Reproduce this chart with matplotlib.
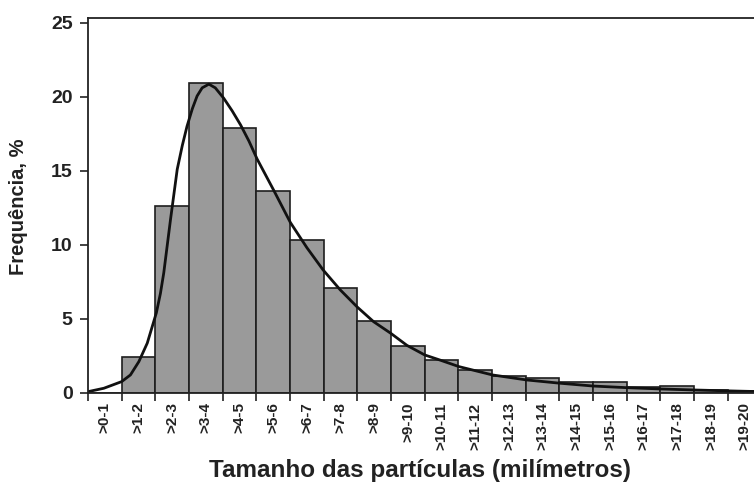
import matplotlib
matplotlib.use("Agg")
import matplotlib.pyplot as plt
import numpy as np

# Histogram bins (mm) and frequencies (%)
bin_labels = [">0-1", ">1-2", ">2-3", ">3-4", ">4-5", ">5-6", ">6-7", ">7-8", ">8-9", ">9-10",
              ">10-11", ">11-12", ">12-13", ">13-14", ">14-15", ">15-16", ">16-17", ">17-18",
              ">18-19", ">19-20"]
freq = [0.0, 2.4, 12.6, 20.9, 17.9, 13.6, 10.3, 7.1, 4.85, 3.15,
        2.2, 1.55, 1.15, 1.0, 0.75, 0.75, 0.4, 0.45, 0.2, 0.1]

# Fitted curve, points
curve_x = [0, 0.47, 1.0, 1.26, 1.51, 1.76, 2.03, 2.15, 2.25, 2.35, 2.45, 2.55, 2.65, 2.8, 2.94,
           3.1, 3.24, 3.39, 3.59, 3.78, 4.03, 4.28, 4.53, 4.78, 5.02, 5.51, 6.01, 6.5, 6.98,
           7.49, 7.99, 8.48, 9.0, 9.47, 10.0, 10.46, 11.02, 12.01, 13.03, 14.02, 15.0, 16.0,
           17.04, 18.06, 19.07, 20.0]
curve_y = [0.07, 0.3, 0.75, 1.2, 2.1, 3.35, 5.4, 6.7, 8.1, 9.9, 11.7, 13.4, 15.1, 16.7, 18.0,
           19.2, 20.05, 20.6, 20.85, 20.6, 19.9, 19.05, 18.1, 17.0, 15.8, 13.7, 11.5, 9.8, 8.3,
           6.95, 5.8, 4.8, 4.0, 3.2, 2.55, 2.2, 1.76, 1.2, 0.86, 0.64, 0.45, 0.34,
           0.25, 0.18, 0.12, 0.07]

plt.rcParams['font.family'] = ['Liberation Sans', 'DejaVu Sans']
txt = '#222222'

fig = plt.figure(figsize=(7.54, 4.94), dpi=100)
ax = fig.add_axes([88/754, (494-392.7)/494, (761.5-88)/754, (392.7-18.3)/494])

edges = np.arange(len(freq))
ax.bar(edges, freq, width=1.0, align='edge', color='#9a9a9a', edgecolor='#1e1e1e', linewidth=1.2)
ax.plot(curve_x, curve_y, color='#111111', linewidth=2.0, solid_capstyle='round',
        solid_joinstyle='round')

ax.set_xlim(0, 20)
ax.set_ylim(0, 25.3)

ax.set_xticks(np.arange(0, 21))
ax.set_xticklabels([])
ax.set_xticks(np.arange(len(freq)) + 0.5, minor=True)
ax.set_xticklabels(bin_labels, minor=True, rotation=90, fontsize=11, fontweight='bold', color=txt)
ax.tick_params(axis='x', which='major', direction='out', length=6, width=1.2, color='#222222')
ax.tick_params(axis='x', which='minor', length=0, pad=7)

ax.set_yticks([0, 5, 10, 15, 20, 25])
ax.tick_params(axis='y', direction='out', length=6, width=1.2, color='#222222',
               labelsize=14, labelcolor=txt, pad=5)
for lab in ax.get_yticklabels():
    lab.set_fontweight('bold')

for s in ['left', 'bottom', 'top']:
    ax.spines[s].set_linewidth(1.3)
    ax.spines[s].set_color('#222222')
ax.spines['right'].set_visible(False)

fig.text(19/754, 1 - 207/494, 'Frequência, %', rotation=90, ha='center', va='center',
         fontsize=14.5, fontweight='bold', color=txt)
fig.text(420/754, 1 - 470/494, 'Tamanho das partículas (milímetros)', ha='center', va='center',
         fontsize=17.5, fontweight='bold', color=txt)

fig.savefig('out.png', dpi=100)
